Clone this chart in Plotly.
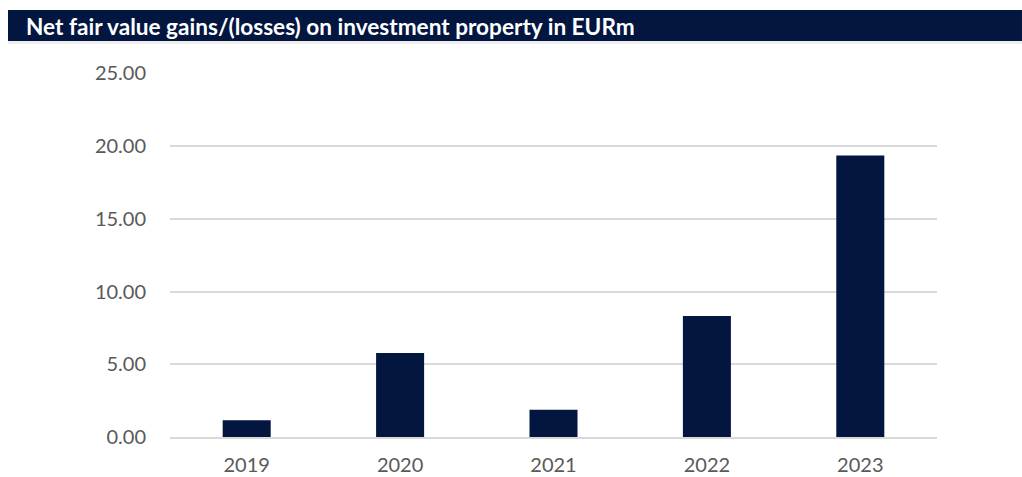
import plotly.graph_objects as go

years = ['2019', '2020', '2021', '2022', '2023']
gains = [1.15, 5.78, 1.88, 8.32, 19.35]
y_ticks = [0, 5, 10, 15, 20, 25]
y_tick_labels = ['0.00', '5.00', '10.00', '15.00', '20.00', '25.00']
title = 'Net fair value gains/(losses) on investment property in EURm'

navy = '#021640'
grey_txt = '#595959'

fig = go.Figure()
fig.add_trace(go.Bar(x=years, y=gains, marker_color=navy, marker_line_width=0))

# plot area is 170..937 px wide, 73..437 px high
fig.update_layout(
    width=1022, height=477,
    margin=dict(l=170, r=85, t=73, b=40, autoexpand=False),
    paper_bgcolor='white', plot_bgcolor='white',
    bargap=0.687,
    showlegend=False,
    font=dict(family='Lato, Open Sans, sans-serif', size=20, color=grey_txt),
    shapes=[
        # title band
        dict(type='rect', xref='paper', yref='paper', x0=-0.2112, x1=1.1108,
             y0=1.0879, y1=1.1731, fillcolor=navy, line_width=0, layer='below'),
        dict(type='rect', xref='paper', yref='paper', x0=-0.2112, x1=1.1108,
             y0=1.0797, y1=1.0879, fillcolor='#eeeeee', line_width=0, layer='below'),
    ],
    annotations=[
        dict(text='<b>' + title + '</b>', xref='paper', yref='paper',
             x=-0.1903, y=1.129, xanchor='left', yanchor='middle', showarrow=False,
             font=dict(family='Lato, Open Sans, sans-serif', size=22.6, color='white')),
    ],
)
fig.update_yaxes(range=[0, 25.03], tickvals=y_ticks, ticktext=y_tick_labels,
                 showgrid=True, gridcolor='#d9d9d9', gridwidth=1.5, automargin=False,
                 zeroline=False, showline=False, ticklabelstandoff=23)
fig.update_xaxes(showgrid=False, showline=True, linecolor='#d9d9d9', linewidth=1.5,
                 automargin=False, ticklabelstandoff=9)

fig.write_html("out.html", config={'displayModeBar': False},
               post_script="document.body.style.margin='0';")
